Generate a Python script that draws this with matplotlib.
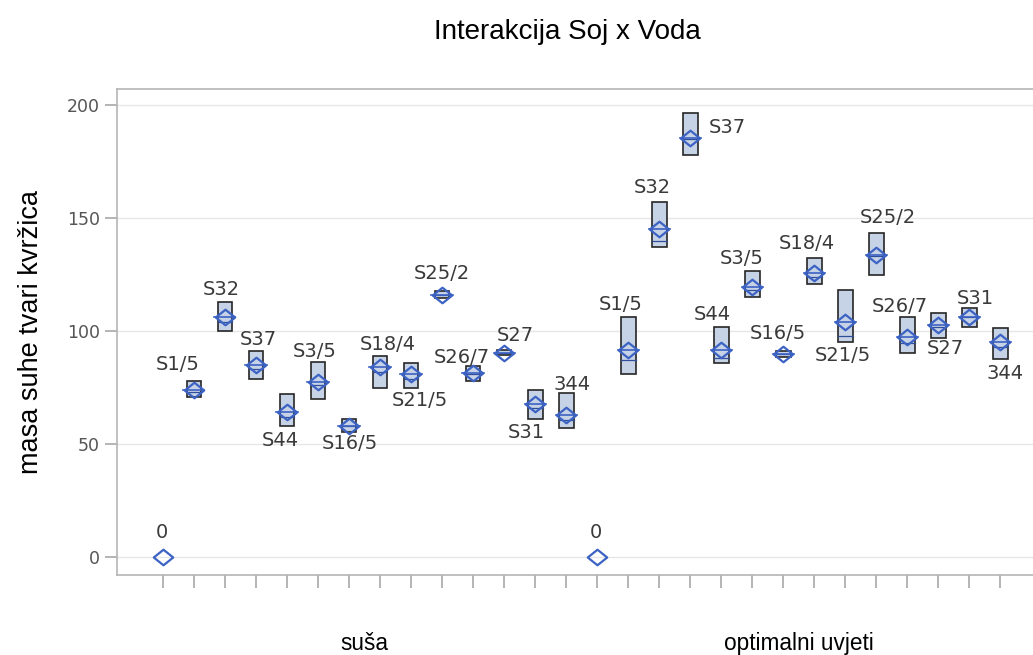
import numpy as np
import matplotlib.pyplot as plt
from matplotlib.path import Path
from matplotlib.patches import Rectangle

# Sojevi (genotipovi) i tretmani vode
soj = ['0', 'S1/5', 'S32', 'S37', 'S44', 'S3/5', 'S16/5', 'S18/4',
       'S21/5', 'S25/2', 'S26/7', 'S27', 'S31', '344']
voda = ['suša', 'optimalni uvjeti']

# Suša: srednja vrijednost, donja i gornja granica pravokutnika, medijan
susa_mean = [0, 74, 106, 85, 64, 77.5, 58, 84, 81, 116, 81.5, 90.5, 67.5, 63]
susa_low = [0, 71, 100, 79, 58, 70, 55.5, 75, 75, 114.5, 78, 89.5, 61, 57]
susa_high = [0, 78, 113, 91, 72, 86.5, 61, 89, 86, 117.5, 84.5, 91.5, 74, 72.5]
susa_median = [0, 73, 104, 83, 62, 76, 58, 82, 79, 116, 81, 90.5, 66, 60.5]

# Optimalni uvjeti
opt_mean = [0, 91.5, 145, 185.5, 91.5, 119.5, 90, 125.5, 104, 133.5, 97.5, 102.5, 106, 95]
opt_low = [0, 81, 137, 178, 86, 115, 88.5, 121, 95, 125, 90.5, 97, 102, 87.5]
opt_high = [0, 106, 157, 196.5, 102, 126.5, 91, 132.5, 118, 143.5, 106, 108, 110, 101.5]
opt_median = [0, 87, 140, 185, 88, 118, 90, 124, 98, 133, 94.5, 102, 106, 93]

# pomaci natpisa (u pikselima) od srednje vrijednosti
susa_offsets = [(-1, 25), (-16, 25), (-4, 28), (2, 25), (-7, -28), (-3, 30), (1, -18),
                (8, 23), (9, -27), (0, 21), (-11, 15), (11, 17), (-9, -28), (6, 30)]
opt_offsets = [(-1, 25), (-7, 46), (-7, 42), (37, 10), (-9, 36), (-10, 28), (-5, 20),
               (-7, 30), (-2, -33), (12, 38), (-7, 30), (7, -23), (6, 19), (5, -31)]

means = susa_mean + opt_mean
lows = susa_low + opt_low
highs = susa_high + opt_high
medians = susa_median + opt_median
labels = soj + soj
offsets = susa_offsets + opt_offsets
x = np.arange(len(means))

blue = '#3c62c4'
diamond = Path([(-1, 0), (0, 0.8), (1, 0), (0, -0.8), (-1, 0)],
               [Path.MOVETO, Path.LINETO, Path.LINETO, Path.LINETO, Path.CLOSEPOLY])

fig = plt.figure(figsize=(10.33, 6.55), dpi=100)
ax = fig.add_axes([0.1133, 0.1221, 0.9, 0.742])

box_w = 0.48
for i in x:
    if highs[i] - lows[i] > 0:
        ax.add_patch(Rectangle((i - box_w / 2, lows[i]), box_w, highs[i] - lows[i],
                               facecolor='#c6d2e5', edgecolor='#262626', lw=1.2, zorder=3))
        ax.plot([i - box_w / 2, i + box_w / 2], [medians[i], medians[i]],
                color='#2f4f9a', lw=0.9, zorder=4)
        ax.plot([i - 0.34, i + 0.34], [means[i], means[i]], color=blue, lw=1.2, zorder=4)

ax.plot(x, means, linestyle='none', marker=diamond, markersize=14,
        markerfacecolor='none', markeredgecolor=blue, markeredgewidth=1.6, zorder=5)

for i in x:
    ax.annotate(labels[i], (i, means[i]), xytext=offsets[i], textcoords='offset pixels',
                ha='center', va='center', fontsize=14, color='#3a3a3a', zorder=6)

ax.set_xlim(-1.48, 28.5)
ax.set_ylim(-7.96, 207.1)
ax.set_yticks([0, 50, 100, 150, 200])
ax.set_xticks(x)
ax.set_xticklabels([])
ax.yaxis.grid(True, color='#e6e6e6', lw=1)
ax.set_axisbelow(True)
ax.tick_params(axis='both', color='#a8a8a8', length=9, width=1.2, labelcolor='#555555',
               labelsize=12.5)
for side in ['left', 'bottom', 'top', 'right']:
    ax.spines[side].set_color('#b5b5b5')
    ax.spines[side].set_linewidth(1.2)

ax.set_ylabel('masa suhe tvari kvržica', fontsize=19.5, family='Liberation Sans', labelpad=16)

# nazivi tretmana ispod osi
n = len(soj)
for g, name in enumerate(voda):
    ax.text(g * n + (n - 1) / 2, -0.14, name, transform=ax.get_xaxis_transform(),
            ha='center', va='center', fontsize=16.3, family='Liberation Sans')

fig.text(0.549, 0.951, 'Interakcija Soj x Voda', ha='center', va='center',
         fontsize=20, family='Liberation Sans')

fig.savefig('out.png', dpi=100)
